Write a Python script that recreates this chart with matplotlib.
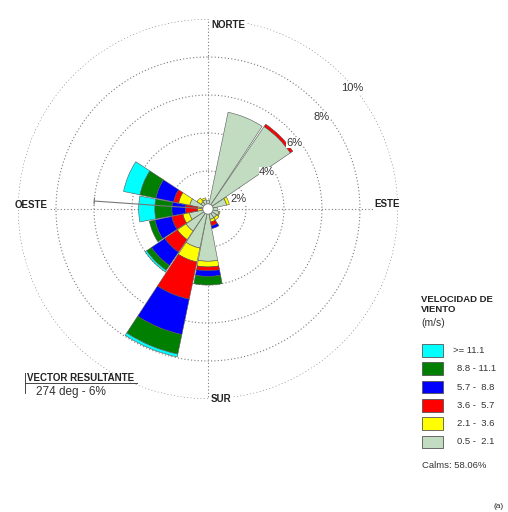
import numpy as np
import matplotlib.pyplot as plt
from matplotlib.patches import Rectangle
from matplotlib.lines import Line2D

plt.rcParams['font.family'] = ['Liberation Sans', 'DejaVu Sans']

# direcciones (16 sectores, grados desde el norte)
directions = ['N', 'NNE', 'NE', 'ENE', 'E', 'ESE', 'SE', 'SSE',
              'S', 'SSW', 'SW', 'WSW', 'W', 'WNW', 'NW', 'NNW']
angles_deg = [0, 22.5, 45, 67.5, 90, 112.5, 135, 157.5,
              180, 202.5, 225, 247.5, 270, 292.5, 315, 337.5]

# frecuencia (%) por clase de velocidad
f_05_21 = [0.45, 5.20, 5.25, 1.00, 0.50, 0.60, 0.55, 0.55,
           2.75, 2.10, 1.40, 1.00, 0.30, 0.98, 0.45, 0.50]
f_21_36 = [0.00, 0.00, 0.00, 0.15, 0.00, 0.05, 0.15, 0.15,
           0.30, 0.75, 0.55, 0.35, 0.25, 0.60, 0.25, 0.10]
f_36_57 = [0.00, 0.00, 0.15, 0.00, 0.00, 0.00, 0.00, 0.20,
           0.20, 2.00, 0.80, 0.60, 0.65, 0.27, 0.00, 0.00]
f_57_88 = [0.00, 0.00, 0.00, 0.00, 0.00, 0.00, 0.00, 0.15,
           0.30, 1.90, 0.85, 0.90, 0.70, 0.95, 0.00, 0.00]
f_88_111 = [0.00, 0.00, 0.00, 0.00, 0.00, 0.00, 0.00, 0.00,
            0.45, 1.05, 0.30, 0.30, 0.90, 0.86, 0.00, 0.00]
f_111 = [0.00, 0.00, 0.00, 0.00, 0.00, 0.00, 0.00, 0.00,
         0.00, 0.15, 0.10, 0.00, 0.85, 0.88, 0.00, 0.00]

series = [f_05_21, f_21_36, f_36_57, f_57_88, f_88_111, f_111]
class_labels = ['0.5 -  2.1', '2.1 -  3.6', '3.6 -  5.7',
                '5.7 -  8.8', '8.8 - 11.1', '>= 11.1']
colors = ['#c2dcc2', '#ffff00', '#ff0000', '#0000ff', '#007f00', '#00ffff']

rings = [2, 4, 6, 8, 10]
calms = 58.06
calm_radius = 0.27
vector_dir = 274
vector_pct = 6

fig = plt.figure(figsize=(5.08, 5.12), dpi=100)
ax = fig.add_axes([0.0354, 0.2207, 0.748, 0.7422], projection='polar')
ax.set_theta_zero_location('N')
ax.set_theta_direction(-1)
ax.set_ylim(0, 10)
ax.set_axis_off()

# rejilla punteada
grid_kw = dict(color='#7a7a7a', lw=0.8, ls=(0, (1, 2)), zorder=1)
th = np.linspace(0, 2 * np.pi, 500)
for r in rings:
    ax.plot(th, np.full_like(th, r), **grid_kw)
for a in [0, 90, 180, 270]:
    ax.plot([np.radians(a)] * 2, [0, rings[-1]], **grid_kw)

# sectores apilados (solo segmentos con valor)
theta = np.radians(angles_deg)
width = np.radians(21.5)
bottom = np.zeros(len(directions))
for vals, col in zip(series, colors):
    vals = np.array(vals)
    m = vals > 0
    ax.bar(theta[m], vals[m], width=width, bottom=bottom[m], color=col,
           edgecolor='#555555', linewidth=0.4, zorder=3)
    bottom += vals

# vector resultante
vt = np.radians(vector_dir)
ax.plot([vt, vt], [0, vector_pct], color='#777777', lw=0.8, zorder=4)
ax.plot([vt - np.radians(1.5), vt + np.radians(1.5)], [vector_pct, vector_pct],
        color='#777777', lw=0.8, zorder=4)

# calmas
ax.fill(th, np.full_like(th, calm_radius), facecolor='white',
        edgecolor='#777777', lw=0.6, zorder=5)

# etiquetas de anillos
ring_label_pos = [(72.1, 1.71), (57.9, 3.67), (52.5, 5.71), (51.1, 7.71), (50.0, 9.9)]
for r, (b, rr) in zip(rings, ring_label_pos):
    ax.text(np.radians(b), rr, f'{r}%', fontsize=8, color='#333333',
            ha='center', va='center', zorder=6,
            bbox=dict(facecolor='white', edgecolor='none', pad=0.3))


def fx(x):
    return x / 508


def fy(y):
    return 1 - y / 512


card_kw = dict(fontsize=7, fontweight='bold', color='#222222', va='center',
               bbox=dict(facecolor='white', edgecolor='none', pad=0.5))
fig.text(fx(211), fy(24.5), 'NORTE', ha='left', **card_kw)
fig.text(fx(400), fy(204), 'ESTE', ha='right', **card_kw)
fig.text(fx(15), fy(204.5), 'OESTE', ha='left', **card_kw)
fig.text(fx(211), fy(399), 'SUR', ha='left', **card_kw)

# leyenda
fig.text(fx(421), fy(299.5), 'VELOCIDAD DE', fontsize=6.8, fontweight='bold',
         color='#222222', va='center')
fig.text(fx(421), fy(310), 'VIENTO', fontsize=6.8, fontweight='bold',
         color='#222222', va='center')
fig.text(fx(421), fy(322.5), '(m/s)', fontsize=7.5, color='#333333', va='center')

box_top = 344
step = 18.3
for i, (lab, col) in enumerate(zip(class_labels[::-1], colors[::-1])):
    y0 = box_top + i * step
    fig.patches.append(Rectangle((fx(421.7), fy(y0 + 12.7)), 21.6 / 508, 12.7 / 512,
                                 transform=fig.transFigure, facecolor=col,
                                 edgecolor='#555555', lw=0.6))
    tx = 453.3 if lab.startswith('>') else 457.3
    fig.text(fx(tx), fy(y0 + 6.5), lab, fontsize=6.8, color='#333333', va='center')

fig.text(fx(421.5), fy(465), f'Calms: {calms:.2f}%', fontsize=6.8,
         color='#333333', va='center')
fig.text(fx(504), fy(507), '(a)', fontsize=6, color='#222222',
         ha='right', va='center')

# texto del vector resultante
fig.text(fx(27), fy(378), 'VECTOR RESULTANTE', fontsize=7, fontweight='bold',
         color='#222222', va='center')
fig.text(fx(36), fy(392), f'{vector_dir} deg - {vector_pct}%', fontsize=8.5,
         color='#333333', va='center')
fig.lines.append(Line2D([fx(25), fx(137)], [fy(383), fy(383)],
                        transform=fig.transFigure, color='#444444', lw=0.7))
fig.lines.append(Line2D([fx(25), fx(25)], [fy(373), fy(393)],
                        transform=fig.transFigure, color='#444444', lw=0.7))

fig.savefig('out.png', dpi=100, facecolor='white')
